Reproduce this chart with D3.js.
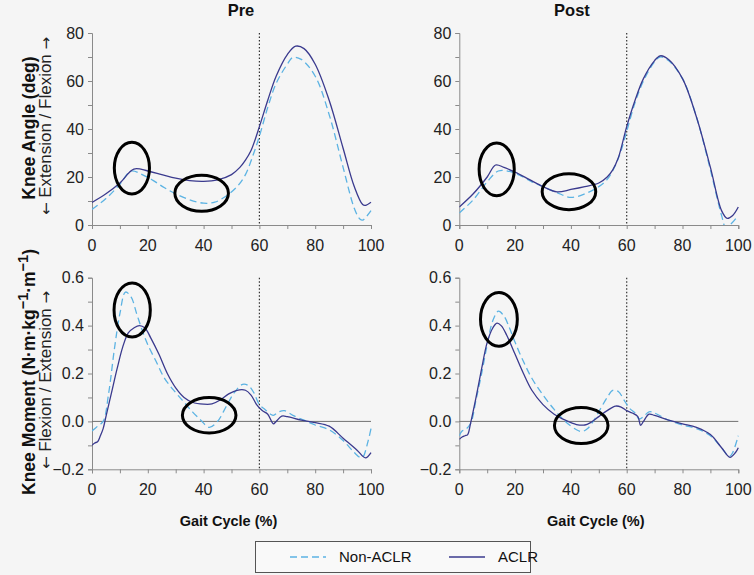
<!DOCTYPE html>
<html><head><meta charset="utf-8">
<script src="https://cdn.jsdelivr.net/npm/d3@7"></script>
<style>
html,body{margin:0;padding:0;background:#f5f5f5;}
svg{display:block;font-family:"Liberation Sans",Arial,sans-serif;}
</style></head>
<body>
<svg id="chart" width="754" height="575"></svg>
<script>
// ---- data ----
const panelTitles = ["Pre", "Post"];
const seriesNames = ["Non-ACLR", "ACLR"];
const angleTicks = [0, 20, 40, 60, 80];
const momentTicks = [-0.2, 0.0, 0.2, 0.4, 0.6];
const gaitTicks = [0, 20, 40, 60, 80, 100];

const preAngleNon = [[0,6.5],[5,11],[10,17],[14,22.5],[18,21],[22,18.5],[26,15.5],[30,13],[35,10.5],[40,9.1],[44,9.5],[48,12],[52,16],[55,21],[58,30],[60,37],[63,49],[66,59],[70,67],[72,69.8],[75,69],[80,62],[85,46],[90,24],[94,7],[96,2.5],[97,2],[98,3],[100,6]];
const preAngleACLR = [[0,9.4],[5,13],[10,17.5],[15,23.3],[20,22.5],[25,21],[30,19.5],[35,18.5],[40,18.2],[45,18.8],[50,21],[53,24],[55,27],[57,31],[60,41],[63,52],[66,62],[70,71],[73,74.5],[76,73.5],[80,67],[85,52],[90,32],[94,16],[97,8.5],[98,8.2],[100,9.5]];
const postAngleNon = [[0,5],[5,10.5],[10,18],[14,22.5],[18,22.3],[22,20.5],[26,18],[30,16],[35,13.5],[40,11.5],[45,13],[50,16],[53,19],[56,25],[58,31],[60,39],[63,51],[66,60],[70,68],[72,70],[75,68.5],[80,61],[85,45],[90,23],[94,4],[95.5,-1],[97,0],[100,4]];
const postAngleACLR = [[0,7.5],[5,13],[10,20],[13,25],[16,24],[20,22],[25,19],[30,16],[35,13.8],[40,14.8],[45,16],[50,17.5],[53,20],[55,23],[57,28],[60,41],[63,52],[66,61],[70,68.5],[72,70.5],[75,69],[80,61],[85,45],[90,24],[94,6],[96,2.8],[98,4],[100,7.5]];

const preMomentNon = [[0,-0.04],[2,-0.02],[4,0.0],[6,0.12],[8,0.30],[10,0.45],[12,0.54],[14,0.52],[16,0.45],[18,0.38],[20,0.32],[23,0.25],[26,0.18],[30,0.12],[33,0.08],[36,0.04],[39,0.005],[42,-0.025],[45,0.0],[48,0.06],[51,0.12],[54,0.155],[56,0.15],[58,0.12],[60,0.07],[62,0.05],[64,0.03],[65,0.025],[67,0.04],[69,0.045],[72,0.025],[76,0.005],[80,-0.015],[85,-0.035],[90,-0.08],[94,-0.13],[96,-0.15],[97,-0.15],[99,-0.08],[100,-0.03]];
const preMomentACLR = [[0,-0.1],[1,-0.09],[2,-0.085],[3,-0.06],[4,-0.03],[5,0.02],[7,0.12],[9,0.22],[11,0.31],[13,0.37],[15,0.39],[17,0.40],[19,0.39],[21,0.35],[24,0.28],[27,0.20],[30,0.14],[33,0.10],[36,0.08],[40,0.072],[43,0.073],[46,0.09],[49,0.115],[52,0.13],[55,0.13],[57,0.11],[59,0.07],[61,0.045],[63,0.03],[65,-0.01],[66,0.0],[68,0.022],[70,0.02],[75,0.005],[80,-0.005],[85,-0.02],[90,-0.07],[95,-0.12],[98,-0.152],[100,-0.13]];
const postMomentNon = [[0,-0.06],[1,-0.04],[2,-0.035],[4,-0.01],[6,0.09],[8,0.2],[10,0.32],[12,0.42],[14,0.46],[16,0.44],[18,0.39],[20,0.33],[23,0.25],[26,0.18],[30,0.11],[34,0.05],[38,0.0],[42,-0.035],[44,-0.042],[46,-0.03],[48,0.0],[50,0.04],[53,0.10],[55,0.13],[57,0.125],[59,0.09],[61,0.055],[63,0.035],[64.5,0.01],[66,0.02],[68,0.04],[70,0.035],[75,0.005],[80,-0.015],[85,-0.03],[90,-0.06],[94,-0.11],[96,-0.14],[97,-0.145],[98,-0.13],[100,-0.06]];
const postMomentACLR = [[0,-0.075],[1,-0.065],[2,-0.06],[3,-0.055],[4,-0.01],[6,0.1],[8,0.22],[10,0.33],[12,0.39],[13.5,0.41],[15,0.40],[17,0.36],[20,0.28],[23,0.20],[26,0.13],[30,0.07],[34,0.03],[38,0.005],[42,-0.013],[45,-0.015],[47,-0.005],[50,0.02],[53,0.045],[56,0.064],[58,0.06],[60,0.045],[62,0.035],[64,0.02],[65,-0.016],[66,0.0],[68,0.03],[70,0.025],[75,0.005],[80,-0.01],[85,-0.025],[90,-0.055],[94,-0.11],[97,-0.15],[99,-0.13],[100,-0.11]];

// highlighted regions (data coords: cx, cy, rx, ry)
const preAngleRings = [[14.3,23.7,6.3,10.8],[39.3,13.2,9.6,7.5]];
const postAngleRings = [[13.4,23.2,6.3,11.0],[39.3,13.9,9.6,7.5]];
const preMomentRings = [[14.4,0.465,6.5,0.113],[42.0,0.026,9.6,0.074]];
const postMomentRings = [[14.2,0.426,6.6,0.112],[43.7,-0.017,9.6,0.075]];

// ---- drawing ----
const svg = d3.select("#chart");
const colNon = "#5cb3e3", colACLR = "#3a3a8e";
const xRanges = [[92, 371], [459.3, 738.3]];
const rows = [
  {domain:[0,80], range:[225,33], ticks:angleTicks, minor:d3.range(0,81,10), fmt:d3.format("d"), tickY:251, zero:false,
   data:[[preAngleNon,preAngleACLR],[postAngleNon,postAngleACLR]], rings:[preAngleRings,postAngleRings]},
  {domain:[-0.2,0.6], range:[469.3,277.7], ticks:momentTicks, minor:d3.range(-2,7).map(d=>d/10), fmt:d3.format(".1f"), tickY:495, zero:true,
   data:[[preMomentNon,preMomentACLR],[postMomentNon,postMomentACLR]], rings:[preMomentRings,postMomentRings]}
];
const axisCol = "#8a8a8a";

rows.forEach((row, ri) => {
  xRanges.forEach((xr, ci) => {
    const x = d3.scaleLinear().domain([0,100]).range(xr);
    const y = d3.scaleLinear().domain(row.domain).range(row.range);
    const g = svg.append("g");
    const clipId = `clip${ri}${ci}`;
    svg.append("clipPath").attr("id", clipId).append("rect")
      .attr("x", xr[0]).attr("y", row.range[1]-5).attr("width", xr[1]-xr[0]+3).attr("height", row.range[0]-row.range[1]+5);

    // x axis
    const xa = g.append("g").attr("transform", `translate(0,${row.range[0]})`)
      .call(d3.axisBottom(x).tickValues(d3.range(0,101,10)).tickSize(4).tickFormat(""));
    xa.select(".domain").attr("stroke", axisCol);
    xa.selectAll(".tick line").attr("stroke", axisCol);
    g.selectAll(".xlab").data(gaitTicks).join("text")
      .attr("x", d => x(d)).attr("y", row.tickY).attr("text-anchor","middle")
      .attr("font-size", 16).attr("fill", "#222").text(d => d);

    // y axis
    const ya = g.append("g").attr("transform", `translate(${xr[0]},0)`)
      .call(d3.axisLeft(y).tickValues(row.minor).tickSize(4).tickFormat(""));
    ya.select(".domain").attr("stroke", axisCol);
    ya.selectAll(".tick line").attr("stroke", axisCol);
    g.selectAll(".ylab").data(row.ticks).join("text")
      .attr("x", xr[0] - 8).attr("y", d => y(d) + 5.5).attr("text-anchor","end")
      .attr("font-size", 16).attr("fill", "#222").text(d => row.fmt(d));

    if (row.zero) {
      g.append("line").attr("x1", xr[0]).attr("x2", xr[1]).attr("y1", y(0)).attr("y2", y(0))
        .attr("stroke", "#707070").attr("stroke-width", 1);
    }
    // toe-off marker at 60%
    g.append("line").attr("x1", x(60)).attr("x2", x(60)).attr("y1", row.range[1]).attr("y2", row.range[0])
      .attr("stroke", "#333").attr("stroke-width", 1.2).attr("stroke-dasharray", "1.5,2");

    const line = d3.line().x(d => x(d[0])).y(d => y(d[1])).curve(d3.curveCatmullRom.alpha(0.5));
    const [non, aclr] = row.data[ci];
    g.append("path").attr("d", line(non)).attr("fill","none").attr("stroke", colNon)
      .attr("stroke-width", 1.3).attr("stroke-dasharray", "7,4").attr("clip-path", `url(#${clipId})`);
    g.append("path").attr("d", line(aclr)).attr("fill","none").attr("stroke", colACLR)
      .attr("stroke-width", 1.3).attr("clip-path", `url(#${clipId})`);

    g.selectAll(".ring").data(row.rings[ci]).join("ellipse")
      .attr("cx", d => x(d[0])).attr("cy", d => y(d[1]))
      .attr("rx", d => x(d[2]) - x(0)).attr("ry", d => Math.abs(y(d[3]) - y(0)))
      .attr("fill", "none").attr("stroke", "#000").attr("stroke-width", 3);

    if (ri === 0) {
      g.append("text").attr("x", [241, 572][ci]).attr("y", 16).attr("text-anchor","middle")
        .attr("font-size", 16.5).attr("font-weight","bold").attr("fill","#111").text(panelTitles[ci]);
    } else {
      g.append("text").attr("x", (xr[0]+xr[1])/2 - 3).attr("y", 526).attr("text-anchor","middle")
        .attr("font-size", 14.5).attr("font-weight","bold").attr("fill","#111").text("Gait Cycle (%)");
    }
  });
});

// y titles
function yTitle(cy, boldBuilder, words, bx, sx, scy) {
  const t = svg.append("text").attr("transform", `translate(${bx},${cy}) rotate(-90)`)
    .attr("text-anchor","middle").attr("font-size", 17.5).attr("font-weight","bold").attr("fill","#111");
  boldBuilder(t);
  const s = svg.append("text").attr("transform", `translate(${sx},${scy}) rotate(-90)`)
    .attr("text-anchor","middle").attr("font-size", 17).attr("fill","#222");
  s.append("tspan").attr("font-family", "DejaVu Sans").attr("font-size", 15).text("\u2190");
  s.append("tspan").text(" " + words + " ");
  s.append("tspan").attr("font-family", "DejaVu Sans").attr("font-size", 15).text("\u2192");
}
yTitle(128, t => t.text("Knee Angle (deg)"), "Extension / Flexion", 35, 51, 126);
yTitle(372, t => {
  t.append("tspan").text("Knee Moment (N\u00B7m\u00B7kg");
  t.append("tspan").attr("dy", -7).attr("font-size", 14.5).text("\u22121");
  t.append("tspan").attr("dy", 7).text("\u00B7m");
  t.append("tspan").attr("dy", -7).attr("font-size", 14.5).text("\u22121");
  t.append("tspan").attr("dy", 7).text(")");
}, "Flexion / Extension", 35, 51, 380);

// legend
const lg = svg.append("g");
lg.append("rect").attr("x", 255.5).attr("y", 541.5).attr("width", 275).attr("height", 31)
  .attr("fill", "#f9f9f9").attr("stroke", "#555").attr("stroke-width", 1);
const legendItems = [
  {name: seriesNames[0], color: colNon, dash: "7,4", x0: 290},
  {name: seriesNames[1], color: colACLR, dash: null, x0: 449}
];
legendItems.forEach(it => {
  lg.append("line").attr("x1", it.x0).attr("x2", it.x0 + 36).attr("y1", 557).attr("y2", 557)
    .attr("stroke", it.color).attr("stroke-width", 1.3).attr("stroke-dasharray", it.dash);
  lg.append("text").attr("x", it.x0 + 49).attr("y", 562).attr("font-size", 15).attr("fill","#111").text(it.name);
});
</script>
</body></html>
